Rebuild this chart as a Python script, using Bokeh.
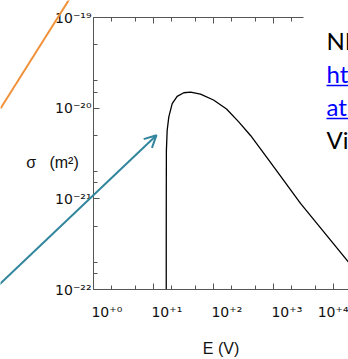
from bokeh.plotting import figure
from bokeh.models import LogAxis, FixedTicker, Label, Arrow, OpenHead
from bokeh.embed import file_html
from bokeh.resources import INLINE

# ---- data ----
E_V = [16.3, 16.31, 16.33, 16.4, 16.9, 18.0, 20.5, 24.8, 32.0, 41.4, 60.7,
       100, 165, 261, 414, 891, 2818, 17800]
sigma_m2 = [1e-24, 3e-22, 1.0e-21, 3.4e-21, 5.7e-21, 8.0e-21, 1.12e-20,
            1.35e-20, 1.48e-20, 1.50e-20, 1.43e-20, 1.23e-20, 9.8e-21,
            7.1e-21, 5.0e-21, 2.52e-21, 8.9e-22, 2.0e-22]

x_major = [1, 10, 100, 1000, 10000]
x_minor = [2, 5, 20, 50, 200, 500, 2000, 5000]
x_labels = ["10⁺⁰", "10⁺¹", "10⁺²", "10⁺³", "10⁺⁴"]

y_major = [1e-22, 1e-21, 1e-20, 1e-19]
y_minor = [1.5e-22, 2e-22, 5e-22, 1.5e-21, 2e-21, 5e-21, 1.5e-20, 2e-20, 5e-20]
y_labels = ["10⁻²²", "10⁻²¹", "10⁻²⁰", "10⁻¹⁹"]

x_title = "E (V)"
y_title = "σ\u00a0\u00a0\u00a0(m²)"
side_texts = ["NI", "ht", "at", "Vi"]
side_colors = ["#000000", "#0000ff", "#0000ff", "#000000"]

FONT = "Liberation Sans"
TICKFONT = "DejaVu Sans"
AXC = "#555555"
W, H = 348, 359

# ---------------- main chart ----------------
p = figure(width=W, height=H, x_axis_type="log", y_axis_type="log",
           x_range=(1, 10 ** 4.25), y_range=(1e-22, 1e-19),
           output_backend="svg", toolbar_location=None,
           min_border_left=93, min_border_right=0, min_border_top=17,
           min_border_bottom=70)
p.outline_line_color = None
p.grid.visible = False
p.background_fill_color = "white"
p.border_fill_color = "white"

p.line(E_V, sigma_m2, line_color="black", line_width=1.3)

pad = "\u2007\u2007\u2007"
xa = p.xaxis[0]
xa.ticker = FixedTicker(ticks=x_major, minor_ticks=x_minor)
xa.major_label_overrides = {v: pad + s for v, s in zip(x_major, x_labels)}
ya = p.yaxis[0]
ya.ticker = FixedTicker(ticks=y_major, minor_ticks=y_minor)
ya.major_label_overrides = {v: s for v, s in zip(y_major, y_labels)}

for ax in (xa, ya):
    ax.axis_line_color = AXC
    ax.major_tick_line_color = AXC
    ax.minor_tick_line_color = AXC
    ax.major_tick_in = 6
    ax.major_tick_out = 0
    ax.minor_tick_in = 4
    ax.minor_tick_out = 0
    ax.major_label_text_font = TICKFONT
    ax.major_label_text_font_size = "14px"
    ax.major_label_text_color = "#111111"

xa.major_label_standoff = 14
ya.major_label_standoff = 2
xa.axis_label = x_title
xa.axis_label_text_font = FONT
xa.axis_label_text_font_size = "16px"
xa.axis_label_text_font_style = "normal"
xa.axis_label_text_color = "#111111"
xa.axis_label_standoff = 17

top_major = [v for v in x_major if v <= 10 ** 3.5]
top_minor = [v for v in x_minor if v <= 10 ** 3.5]
top = LogAxis(ticker=FixedTicker(ticks=top_major, minor_ticks=top_minor),
              bounds=(1, 10 ** 3.5))
top.major_label_overrides = {v: "" for v in top_major}
top.major_label_text_font_size = "8px"
top.axis_line_color = AXC
top.major_tick_line_color = AXC
top.minor_tick_line_color = AXC
top.major_tick_in = 6
top.major_tick_out = 0
top.minor_tick_in = 4
top.minor_tick_out = 0
top.major_label_standoff = 0
p.add_layout(top, "above")

# ------------- slide overlay (pixel space, y downwards) -------------
q = figure(width=W, height=H, x_range=(0, W), y_range=(H, 0),
           output_backend="svg", toolbar_location=None,
           min_border=0, x_axis_location=None, y_axis_location=None)
q.outline_line_color = None
q.grid.visible = False
q.background_fill_color = None
q.border_fill_color = None
q.styles = {"position": "absolute", "left": "0px", "top": "0px"}

q.add_layout(Label(x=52, y=162, text=y_title, text_font=FONT,
                   text_font_size="16px", text_align="center",
                   text_baseline="middle", text_color="#111111"))
q.add_layout(Arrow(x_start=0, y_start=108, x_end=80, y_end=-19, end=None,
                   line_color="#f0913a", line_width=2))
q.add_layout(Arrow(x_start=-10, y_start=292.5, x_end=156, y_end=134.7,
                   end=OpenHead(size=12, line_color="#31859c", line_width=2),
                   line_color="#31859c", line_width=2))

baselines = [40, 73, 106, 139]
for t, c, b in zip(side_texts, side_colors, baselines):
    q.add_layout(Label(x=326, y=b, text=t, text_font="Lato",
                       text_font_size="24px", text_align="left",
                       text_baseline="alphabetic", text_color=c))
for b in baselines[1:3]:
    q.add_layout(Arrow(x_start=326, y_start=b + 12, x_end=360, y_end=b + 12,
                       end=None, line_color="#0000ff", line_width=1.5))

open("out.html", "w").write(file_html([p, q], INLINE))
